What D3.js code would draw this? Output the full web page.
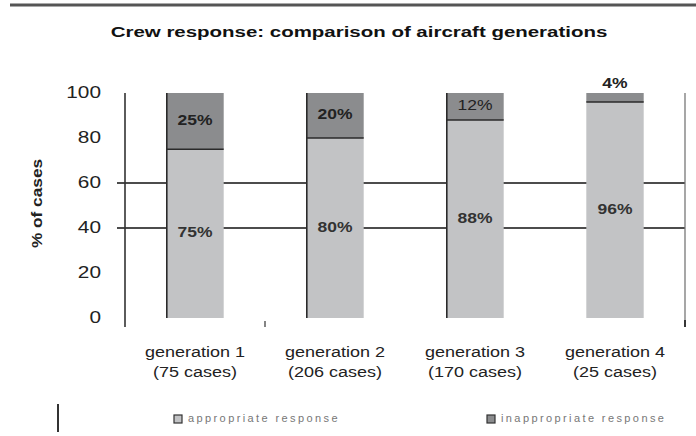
<!DOCTYPE html>
<html>
<head>
<meta charset="utf-8">
<script src="https://cdn.jsdelivr.net/npm/d3@7"></script>
<style>
  html, body { margin: 0; padding: 0; background: #fff; }
  svg { display: block; font-family: "Liberation Sans", Arial, sans-serif; }
</style>
</head>
<body>
<svg id="chart" width="696" height="436"></svg>
<script>
// Crew response by aircraft generation (share of cases, %)
const categories = ["generation 1", "generation 2", "generation 3", "generation 4"];
const caseCounts = ["(75 cases)", "(206 cases)", "(170 cases)", "(25 cases)"];
const appropriate = [75, 80, 88, 96];
const inappropriate = [25, 20, 12, 4];
const yTicks = [0, 20, 40, 60, 80, 100];
const gridValues = [40, 60];
const seriesNames = ["appropriate response", "inappropriate response"];
const seriesColors = ["#c2c3c5", "#8b8c8e"];

const svg = d3.select("#chart");

// position a text element and stretch it horizontally
function placeText(sel, x, y, sx) {
  return sel.attr("transform", `translate(${x},${y}) scale(${sx},1)`);
}

// top rule
svg.append("line")
  .attr("x1", 10).attr("x2", 696).attr("y1", 5).attr("y2", 5)
  .attr("stroke", "#555").attr("stroke-width", 3);

// title
placeText(svg.append("text")
  .attr("text-anchor", "middle").attr("dominant-baseline", "middle")
  .attr("font-size", 15.5).attr("font-weight", "bold").attr("fill", "#111")
  .text("Crew response: comparison of aircraft generations"), 359, 33, 1.32);

const x = d3.scaleBand().domain(categories).range([125, 685])
  .paddingInner(0.59).paddingOuter(0.295);
const y = d3.scaleLinear().domain([0, 100]).range([318, 93]);

// gridlines (drawn beneath the bars)
svg.append("g").selectAll("line").data(gridValues).join("line")
  .attr("x1", 117).attr("x2", 685)
  .attr("y1", d => y(d)).attr("y2", d => y(d))
  .attr("stroke", "#111").attr("stroke-width", 1.5);

// y axis line and right frame line
svg.append("line").attr("x1", 125).attr("x2", 125).attr("y1", y(100)).attr("y2", 327)
  .attr("stroke", "#333").attr("stroke-width", 1.6);
svg.append("line").attr("x1", 685).attr("x2", 685).attr("y1", y(100)).attr("y2", 327)
  .attr("stroke", "#777").attr("stroke-width", 1.3);
svg.append("line").attr("x1", 685).attr("x2", 685).attr("y1", 320).attr("y2", 327)
  .attr("stroke", "#111").attr("stroke-width", 1.5);
svg.append("line").attr("x1", 265).attr("x2", 265).attr("y1", 321).attr("y2", 327)
  .attr("stroke", "#333").attr("stroke-width", 1.2);

// y tick labels
svg.append("g").selectAll("text").data(yTicks).join("text")
  .attr("text-anchor", "end").attr("dominant-baseline", "middle")
  .attr("font-size", 16).attr("fill", "#222")
  .text(d => d)
  .each(function (d) { placeText(d3.select(this), 101, y(d) + 1, 1.3); });

// y axis title
svg.append("text")
  .attr("text-anchor", "middle").attr("dominant-baseline", "middle")
  .attr("font-size", 15).attr("font-weight", "bold").attr("fill", "#222")
  .attr("transform", `translate(38,${y(50) - 2}) rotate(-90) scale(1.15,1)`)
  .text("% of cases");

// stacked bars
const rows = categories.map((c, i) => ({ c, i, a: appropriate[i], b: inappropriate[i] }));
const bars = svg.append("g").selectAll("g").data(rows).join("g");

bars.append("rect")
  .attr("x", d => x(d.c)).attr("width", x.bandwidth())
  .attr("y", d => y(d.a)).attr("height", d => y(0) - y(d.a))
  .attr("fill", seriesColors[0]);
bars.append("rect")
  .attr("x", d => x(d.c)).attr("width", x.bandwidth())
  .attr("y", d => y(d.a + d.b)).attr("height", d => y(d.a) - y(d.a + d.b))
  .attr("fill", seriesColors[1]);
// boundary between segments
bars.append("line")
  .attr("x1", d => x(d.c)).attr("x2", d => x(d.c) + x.bandwidth())
  .attr("y1", d => y(d.a)).attr("y2", d => y(d.a))
  .attr("stroke", "#2a2a2a").attr("stroke-width", 1.6);
// dark left edge on the first three columns
bars.filter(d => d.i < 3).append("line")
  .attr("x1", d => x(d.c) + 0.5).attr("x2", d => x(d.c) + 0.5)
  .attr("y1", y(100)).attr("y2", y(0))
  .attr("stroke", "#2a2a2a").attr("stroke-width", 1.6);

// value labels
bars.append("text")
  .attr("text-anchor", "middle").attr("dominant-baseline", "middle")
  .attr("font-size", 14).attr("font-weight", "bold").attr("fill", "#333")
  .text(d => d.a + "%")
  .each(function (d) { placeText(d3.select(this), x(d.c) + x.bandwidth() / 2, y(d.a / 2), 1.25); });
bars.append("text")
  .attr("text-anchor", "middle").attr("dominant-baseline", "middle")
  .attr("font-size", 14).attr("font-weight", d => d.b >= 8 && d.b < 15 ? "normal" : "bold")
  .attr("fill", "#222")
  .text(d => d.b + "%")
  .each(function (d) {
    const cy = d.b >= 8 ? y(d.a + d.b / 2) : y(100) - 9;
    placeText(d3.select(this), x(d.c) + x.bandwidth() / 2, cy, 1.25);
  });

// category labels
const cats = svg.append("g").selectAll("g").data(rows).join("g");
cats.append("text")
  .attr("text-anchor", "middle").attr("dominant-baseline", "middle")
  .attr("font-size", 15).attr("fill", "#222")
  .text(d => d.c)
  .each(function (d) { placeText(d3.select(this), x(d.c) + x.bandwidth() / 2, 353, 1.2); });
cats.append("text")
  .attr("text-anchor", "middle").attr("dominant-baseline", "middle")
  .attr("font-size", 15).attr("fill", "#222")
  .text(d => caseCounts[d.i])
  .each(function (d) { placeText(d3.select(this), x(d.c) + x.bandwidth() / 2, 373, 1.2); });

// legend
svg.append("line").attr("x1", 58).attr("x2", 58).attr("y1", 404).attr("y2", 432)
  .attr("stroke", "#333").attr("stroke-width", 2);
const legendX = [178, 491];
const legend = svg.append("g").selectAll("g").data(seriesNames).join("g")
  .attr("transform", (d, i) => `translate(${legendX[i]},419)`);
legend.append("rect")
  .attr("x", -4).attr("y", -4).attr("width", 8).attr("height", 8)
  .attr("fill", (d, i) => seriesColors[i]).attr("stroke", "#333").attr("stroke-width", 1.2);
legend.append("text")
  .attr("x", 10).attr("dominant-baseline", "middle")
  .attr("font-size", 11).attr("fill", "#777").attr("letter-spacing", 2.4)
  .text(d => d);
</script>
</body>
</html>
